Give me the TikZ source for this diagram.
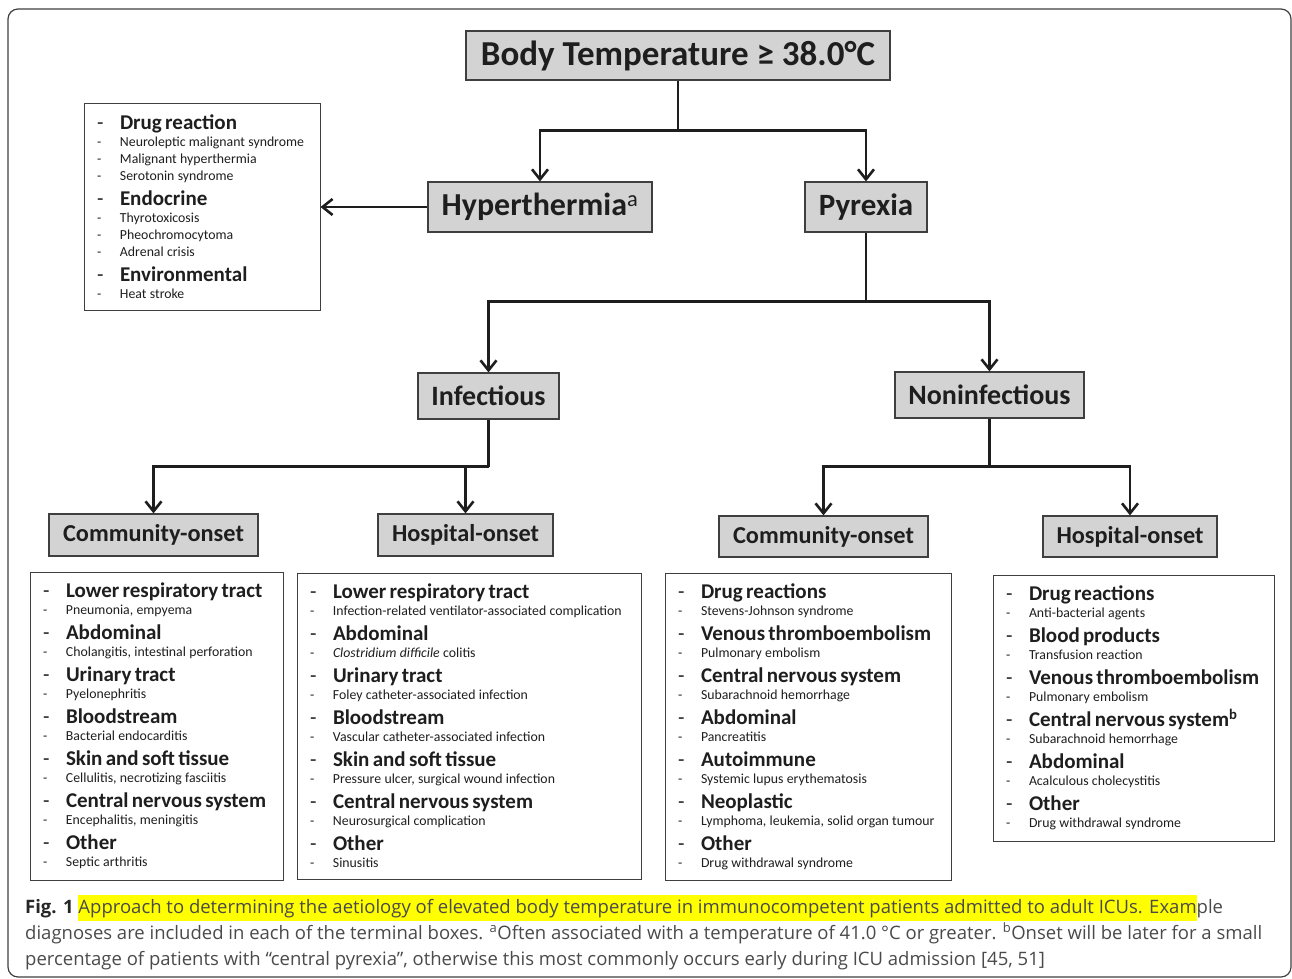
\documentclass[tikz,border=0pt]{standalone}
\usepackage{fontspec}
\setmainfont{Carlito}
\newfontfamily\capfont{Open Sans}
\usetikzlibrary{arrows.meta}
\definecolor{boxgray}{HTML}{D3D3D3}
\definecolor{edgegray}{HTML}{3F3F3F}
\definecolor{inkgray}{HTML}{1E1E1E}
\definecolor{capgray}{HTML}{4A4A4A}
\definecolor{hilite}{HTML}{FFFF00}
\setlength{\parindent}{0pt}
\newcommand{\headline}[1]{\fontsize{21}{25}\selectfont\makebox[23pt][l]{-}\textbf{#1}\par}
\newcommand{\subline}[1]{\fontsize{13.8}{17}\selectfont\makebox[23pt][l]{-}#1\par}
\newcommand{\entry}[2]{\headline{#1}\subline{#2}}
\begin{document}
\begin{tikzpicture}[x=1pt, y=-1pt,
  gbox/.style={draw=edgegray, line width=1.2pt, fill=boxgray, font=\bfseries, text=inkgray, inner sep=0pt},
  lbox/.style={draw=edgegray, line width=1pt, fill=white, text=inkgray, inner xsep=13pt, inner ysep=0pt, align=left},
  conn/.style={draw=inkgray, line width=2.6pt},
  arr/.style={conn, -{Straight Barb[length=10pt, width=16pt]}},
  captext/.style={font=\capfont\fontsize{18.5}{26}\selectfont, text=capgray, inner sep=0pt, anchor=base west}]
\useasboundingbox (0,0) rectangle (1292,979);
\draw[draw=edgegray, line width=1.2pt, rounded corners=10pt] (8,9) rectangle (1291,977);

% decision nodes
\node[gbox, minimum width=424pt, minimum height=49pt, font=\bfseries\fontsize{35}{38}\selectfont] (top) at (678,55.5) {Body Temperature ≥ 38.0°C};
\node[gbox, minimum width=224pt, minimum height=50pt, font=\bfseries\fontsize{32}{35}\selectfont] (hyper) at (540,207) {Hyperthermia\textsuperscript{\normalfont a}};
\node[gbox, minimum width=122pt, minimum height=50pt, font=\bfseries\fontsize{31}{34}\selectfont] (pyr) at (866,207) {Pyrexia};
\node[gbox, minimum width=141pt, minimum height=46pt, font=\bfseries\fontsize{28}{31}\selectfont] (inf) at (488.5,396) {Infectious};
\node[gbox, minimum width=189pt, minimum height=46pt, font=\bfseries\fontsize{28}{31}\selectfont] (noninf) at (989.5,395) {Noninfectious};
\node[gbox, minimum width=209pt, minimum height=42pt, font=\bfseries\fontsize{24.3}{27}\selectfont] (comm1) at (153.5,535) {Community-onset};
\node[gbox, minimum width=175pt, minimum height=42pt, font=\bfseries\fontsize{24.3}{27}\selectfont] (hosp1) at (465.5,535) {Hospital-onset};
\node[gbox, minimum width=209pt, minimum height=41pt, font=\bfseries\fontsize{24.3}{27}\selectfont] (comm2) at (823.5,536.5) {Community-onset};
\node[gbox, minimum width=174pt, minimum height=41pt, font=\bfseries\fontsize{24.3}{27}\selectfont] (hosp2) at (1130,536.5) {Hospital-onset};

% example boxes
\node[lbox, text width=210pt, minimum height=206pt] (hyplist) at (202,207) {
  \headline{Drug reaction}
  \subline{Neuroleptic malignant syndrome}
  \subline{Malignant hyperthermia}
  \subline{Serotonin syndrome}
  \headline{Endocrine}
  \subline{Thyrotoxicosis}
  \subline{Pheochromocytoma}
  \subline{Adrenal crisis}
  \headline{Environmental}
  \subline{Heat stroke}};
\node[lbox, text width=227pt, minimum height=308pt] (list1) at (156.5,726) {
  \entry{Lower respiratory tract}{Pneumonia, empyema}
  \entry{Abdominal}{Cholangitis, intestinal perforation}
  \entry{Urinary tract}{Pyelonephritis}
  \entry{Bloodstream}{Bacterial endocarditis}
  \entry{Skin and soft tissue}{Cellulitis, necrotizing fasciitis}
  \entry{Central nervous system}{Encephalitis, meningitis}
  \entry{Other}{Septic arthritis}};
\node[lbox, text width=318pt, minimum height=306pt] (list2) at (469,726) {
  \entry{Lower respiratory tract}{Infection-related ventilator-associated complication}
  \entry{Abdominal}{\textit{Clostridium difficile} colitis}
  \entry{Urinary tract}{Foley catheter-associated infection}
  \entry{Bloodstream}{Vascular catheter-associated infection}
  \entry{Skin and soft tissue}{Pressure ulcer, surgical wound infection}
  \entry{Central nervous system}{Neurosurgical complication}
  \entry{Other}{Sinusitis}};
\node[lbox, text width=260pt, minimum height=307pt] (list3) at (808,726.5) {
  \entry{Drug reactions}{Stevens-Johnson syndrome}
  \entry{Venous thromboembolism}{Pulmonary embolism}
  \entry{Central nervous system}{Subarachnoid hemorrhage}
  \entry{Abdominal}{Pancreatitis}
  \entry{Autoimmune}{Systemic lupus erythematosis}
  \entry{Neoplastic}{Lymphoma, leukemia, solid organ tumour}
  \entry{Other}{Drug withdrawal syndrome}};
\node[lbox, text width=255pt, minimum height=266pt] (list4) at (1133.5,708) {
  \entry{Drug reactions}{Anti-bacterial agents}
  \entry{Blood products}{Transfusion reaction}
  \entry{Venous thromboembolism}{Pulmonary embolism}
  \entry{Central nervous system\textsuperscript{b}}{Subarachnoid hemorrhage}
  \entry{Abdominal}{Acalculous cholecystitis}
  \entry{Other}{Drug withdrawal syndrome}};

% connectors
\draw[conn] (top.south) -- ++(0,50) coordinate (j1);
\draw[arr] (j1) -| (hyper.north);
\draw[arr] (j1) -| (pyr.north);
\draw[arr] (hyper.west) -- (hyplist.east);
\draw[conn] (pyr.south) -- ++(0,69) coordinate (j2);
\draw[arr] (j2) -| (inf.north);
\draw[arr] (j2) -| (noninf.north);
\draw[conn] (inf.south) -- ++(0,47) coordinate (j3);
\draw[arr] (j3) -| (comm1.north);
\draw[arr] (j3) -| (hosp1.north);
\draw[conn] (noninf.south) -- ++(0,48) coordinate (j4);
\draw[arr] (j4) -| (comm2.north);
\draw[arr] (j4) -| (hosp2.north);

% caption
\setlength{\fboxsep}{0pt}
\node[captext] (cap1) at (25,913) {{\bfseries\color{black!85}Fig. 1} \colorbox{hilite}{\strut Approach to determining the aetiology of elevated body temperature in immunocompetent patients admitted to adult ICUs. Exam}ple};
\node[captext] (cap2) at (25,939) {diagnoses are included in each of the terminal boxes. \textsuperscript{a}Often associated with a temperature of 41.0 °C or greater. \textsuperscript{b}Onset will be later for a small};
\node[captext] (cap3) at (25,965) {percentage of patients with “central pyrexia”, otherwise this most commonly occurs early during ICU admission [45, 51]};
\end{tikzpicture}
\end{document}
